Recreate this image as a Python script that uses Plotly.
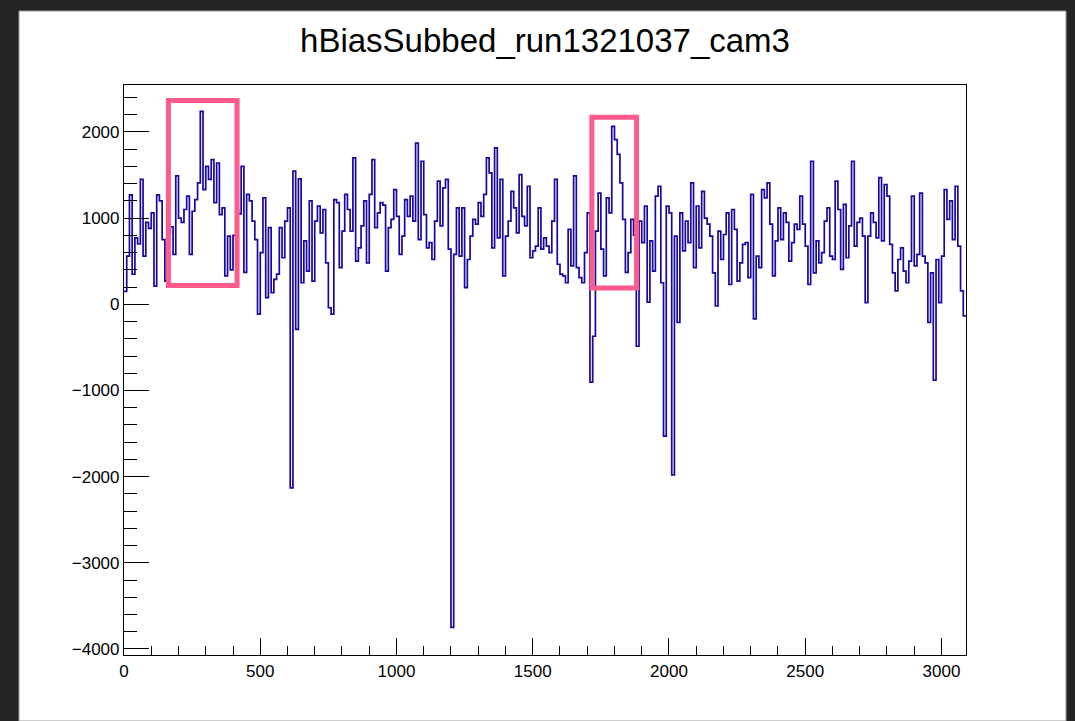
import plotly.graph_objects as go

# ---------------- data ----------------
TITLE = "hBiasSubbed_run1321037_cam3"
X_MIN = 0
X_MAX = 3090

bin_values = [
    # 0-59
    150, 560, 1270, 350, 770, 700, 1450, 560, 950, 880,
    1060, 210, 1270, 1200, 750, 270, 830, 900, 580, 1490,
    1000, 950, 1100, 1255, 580, 1080, 1215, 1410, 2240, 1330,
    1600, 1450, 1680, 1180, 1640, 1040, 1120, 330, 790, 400,
    800, 1100, 1050, 1600, 370, 1275, 1200, 965, 750, -115,
    600, 1235, 77, 890, 135, 290, 350, 890, 540, 965,
    # 60-120
    1120, -2130, 1545, -290, 1455, 250, 735, 385, 1200, 270,
    965, 1140, 830, 1100, 480, -40, -115, 1215, 1180, 425,
    850, 1275, 1100, 850, 1700, 500, 655, 910, 1200, 480,
    1275, 1680, 890, 1060, 1180, 1150, 385, 890, 985, 1330,
    1020, 580, 790, 1215, 1020, 1255, 965, 1870, 750, 1660,
    1040, 655, 715, 520, 965, 1430, 910, 1350, 1450, 640,
    -3750,
    # 121-181
    580, 1120, 560, 1120, 193, 520, 790, 985, 930, 1180,
    1020, 1275, 1700, 1525, 655, 1815, 770, 1450, 330, 790,
    965, 1310, 1120, 830, 1505, 1020, 910, 1370, 540, 620,
    675, 1120, 640, 770, 675, 600, 965, 1450, 465, 350,
    330, 250, 870, 445, 1490, 425, 310, 250, 600, 1060,
    -904, -371, 850, 1290, 640, 330, 1235, 1060, 2065, 1910,
    1740,
    # 182-244
    1410, 985, 370, 600, 985, 800, -487, 965, 715, 1140,
    25, 735, 385, 1255, 1370, 250, -1530, 1140, 1060, -1980,
    790, -210, 1060, 620, 965, 715, 1410, 425, 1140, 655,
    1310, 1000, 930, 790, 365, -20, 850, 520, 810, 1060,
    230, 1100, 870, 270, 480, 695, 715, 310, 1275, -170,
    560, 425, 1330, 1235, 1410, 930, 330, 735, 1120, 750,
    1060, 950, 500,
    # 245-308
    715, 930, 870, 1255, 930, 675, 230, 1660, 365, 735,
    480, 600, 965, 1120, 560, 520, 1430, 1100, 405, 1160,
    540, 910, 1660, 675, 950, 1000, 790, 20, 790, 1060,
    950, 770, 1470, 735, 1390, 1255, 695, 365, 155, 520,
    655, 385, 250, 500, 1255, 445, 580, 1290, 560, 480,
    -210, 365, -880, 520, 20, 560, 1330, 985, 1200, 750,
    1370, 675, 155, -135,
]

# highlight boxes (data units)
box_x0 = [163, 1717]
box_x1 = [415, 1881]
box_y0 = [218, 189]
box_y1 = [2366, 2171]

Y_MIN = -4070
Y_MAX = 2545

# ---------------- figure ----------------
n = len(bin_values)
width = (X_MAX - X_MIN) / n
edges = [X_MIN + i * width for i in range(n + 1)]
ys = list(bin_values) + [bin_values[-1]]

LINE = "#1608a0"
PINK = "#ff5a8c"
FONT = "Liberation Sans, Arial, Helvetica, sans-serif"

fig = go.Figure()
fig.add_trace(go.Scatter(
    x=edges, y=ys, mode="lines", line=dict(color=LINE, width=1.7, shape="hv"),
    hoverinfo="skip", showlegend=False,
))

shapes = []
# white canvas on dark background
shapes.append(dict(type="rect", xref="paper", yref="paper",
                   x0=(19 - 124) / 842, x1=(1066 - 124) / 842,
                   y0=(655 - 721) / 570, y1=(655 - 11) / 570,
                   fillcolor="white", line=dict(color="#9a9a9a", width=1), layer="below"))
for a, b, c, d in zip(box_x0, box_x1, box_y0, box_y1):
    shapes.append(dict(type="rect", xref="x", yref="y", x0=a, x1=b, y0=c, y1=d,
                       line=dict(color=PINK, width=5), fillcolor="rgba(0,0,0,0)", layer="above"))

fig.update_layout(
    width=1075, height=721,
    margin=dict(l=124, r=109, t=85, b=66),
    paper_bgcolor="#242424",
    plot_bgcolor="white",
    shapes=shapes,
    title=dict(text=TITLE, x=0.507, xanchor="center", y=(721 - 40) / 721, yanchor="middle",
               yref="container", font=dict(family=FONT, size=33, color="black")),
    font=dict(family=FONT, color="black"),
)
fig.update_xaxes(
    range=[X_MIN, X_MAX], tick0=0, dtick=500, ticks="inside", ticklen=17, tickwidth=1.2,
    tickcolor="black", showline=True, linecolor="black", linewidth=1.2, mirror=True,
    showgrid=False, zeroline=False, tickfont=dict(family=FONT, size=17, color="black"),
    minor=dict(dtick=100, ticks="inside", ticklen=9, tickcolor="black", tickwidth=1.2, showgrid=False),
    exponentformat="none",
)
fig.update_yaxes(
    range=[Y_MIN, Y_MAX], tick0=0, dtick=1000, ticks="inside", ticklen=25, tickwidth=1.2,
    tickcolor="black", showline=True, linecolor="black", linewidth=1.2, mirror=True,
    showgrid=False, zeroline=False, tickfont=dict(family=FONT, size=17, color="black"),
    minor=dict(dtick=200, ticks="inside", ticklen=13, tickcolor="black", tickwidth=1.2, showgrid=False),
    exponentformat="none",
)

fig.write_html("out.html")
